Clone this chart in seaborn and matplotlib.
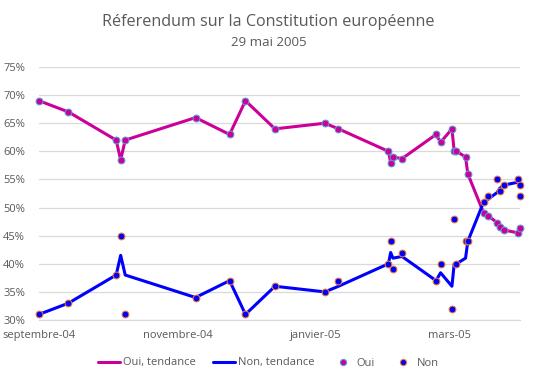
import matplotlib
matplotlib.use("Agg")
import matplotlib.pyplot as plt
import matplotlib.dates as mdates
from matplotlib.lines import Line2D
import seaborn as sns
import pandas as pd
import numpy as np

# ---- data ----
trend_dates = ["2004-09-01", "2004-09-14", "2004-10-05", "2004-10-07", "2004-10-09",
               "2004-11-09", "2004-11-24", "2004-12-01", "2004-12-14", "2005-01-05",
               "2005-01-11", "2005-02-02", "2005-02-03", "2005-02-04", "2005-02-08",
               "2005-02-23", "2005-02-25", "2005-03-02", "2005-03-03", "2005-03-04",
               "2005-03-08", "2005-03-09", "2005-03-16", "2005-03-18", "2005-03-22",
               "2005-03-23", "2005-03-25", "2005-03-31", "2005-04-01"]
oui_trend = [69, 67, 62, 58.5, 62, 66, 63, 69, 64, 65, 64, 60, 58, 59, 58.7,
             63, 61.6, 64, 60, 60, 59, 56, 49, 48.5, 47.3, 46.6, 46, 45.5, 46.4]
non_trend = [31, 33, 38, 41.5, 38, 34, 37, 31, 36, 35, 36, 40, 42, 41, 41.3,
             37, 38.4, 36, 40, 40, 41, 44, 51, 51.5, 52.7, 53.4, 54, 54.5, 53.6]

oui_dates = trend_dates
oui_poll = [69, 67, 62, 58.5, 62, 66, 63, 69, 64, 65, 64, 60, 58, 59, 58.7,
            63, 61.6, 64, 60, 60, 59, 56, 49, 48.5, 47.3, 46.6, 46, 45.5, 46.4]
non_dates = trend_dates + ["2005-04-01"]
non_poll = [31, 33, 38, 45, 31, 34, 37, 31, 36, 35, 37, 40, 44, 39, 42,
            37, 40, 32, 48, 40, 44, 44, 51, 52, 55, 53, 54, 55, 54, 52]

tick_dates = ["2004-09-01", "2004-11-01", "2005-01-01", "2005-03-01"]
tick_labels = ["septembre-04", "novembre-04", "janvier-05", "mars-05"]
y_ticks = [30, 35, 40, 45, 50, 55, 60, 65, 70, 75]

title = "Réferendum sur la Constitution européenne"
subtitle = "29 mai 2005"

# ---- style ----
sns.set_style("white")
plt.rcParams['font.family'] = ['Open Sans', 'DejaVu Sans']
TXT = "#595959"
GRID = "#D9D9D9"
C_OUI = "#CC0099"
C_NON = "#0000FF"
E_OUI = "#5B9BD5"
E_NON = "#ED7D31"

trend_df = pd.DataFrame({"date": pd.to_datetime(trend_dates), "oui": oui_trend, "non": non_trend})
oui_df = pd.DataFrame({"date": pd.to_datetime(oui_dates), "v": oui_poll})
non_df = pd.DataFrame({"date": pd.to_datetime(non_dates), "v": non_poll})

fig = plt.figure(figsize=(5.37, 3.82), dpi=100)
ax = fig.add_axes([39 / 537, 1 - 320 / 382, (520 - 39) / 537, (320 - 67) / 382])

sns.lineplot(data=trend_df, x="date", y="oui", ax=ax, color=C_OUI, linewidth=2.2,
             sort=False, estimator=None, zorder=3, clip_on=False)
sns.lineplot(data=trend_df, x="date", y="non", ax=ax, color=C_NON, linewidth=2.2,
             sort=False, estimator=None, zorder=3, clip_on=False)
sns.scatterplot(data=oui_df, x="date", y="v", ax=ax, color=C_OUI, edgecolor=E_OUI,
                linewidth=0.75, s=24, zorder=4, clip_on=False)
sns.scatterplot(data=non_df, x="date", y="v", ax=ax, color=C_NON, edgecolor=E_NON,
                linewidth=0.75, s=24, zorder=4, clip_on=False)

ax.set_xlim(pd.Timestamp("2004-09-01"), pd.Timestamp("2005-04-01"))
ax.set_ylim(30, 75)
ax.set_yticks(y_ticks)
ax.set_yticklabels([f"{t}%" for t in y_ticks], color=TXT, fontsize=8)
ax.set_xticks(pd.to_datetime(tick_dates))
ax.set_xticklabels(tick_labels, color=TXT, fontsize=8)
ax.set_xlabel("")
ax.set_ylabel("")
ax.grid(axis="y", color=GRID, linewidth=0.9)
ax.set_axisbelow(True)
for s in ["top", "right", "left"]:
    ax.spines[s].set_visible(False)
ax.spines["bottom"].set_color(GRID)
ax.spines["bottom"].set_linewidth(0.9)
ax.tick_params(axis="y", length=0, pad=10)
ax.tick_params(axis="x", length=4, color=GRID, width=0.9, pad=3)
for lbl in ax.get_xticklabels():
    lbl.set_horizontalalignment("center")

fig.text(0.5, 1 - 22 / 382, title, ha="center", va="center", fontsize=11.6, color=TXT)
fig.text(0.5, 1 - 43 / 382, subtitle, ha="center", va="center", fontsize=9.5, color=TXT)

handles = [
    Line2D([], [], color=C_OUI, linewidth=2.2),
    Line2D([], [], color=C_NON, linewidth=2.2),
    Line2D([], [], linestyle="none", marker="o", markerfacecolor=C_OUI,
           markeredgecolor=E_OUI, markersize=4.5, markeredgewidth=0.75),
    Line2D([], [], linestyle="none", marker="o", markerfacecolor=C_NON,
           markeredgecolor=E_NON, markersize=4.5, markeredgewidth=0.75),
]
labels = ["Oui, tendance", "Non, tendance", "Oui", "Non"]
leg = fig.legend(handles, labels, loc="center", bbox_to_anchor=(0.5, 1 - 363 / 382),
                 ncol=4, frameon=False, fontsize=8, handlelength=2.0,
                 handletextpad=0.2, columnspacing=1.6, labelcolor=TXT)
if ax.get_legend() is not None:
    ax.get_legend().remove()

fig.savefig("out.png", dpi=100)
